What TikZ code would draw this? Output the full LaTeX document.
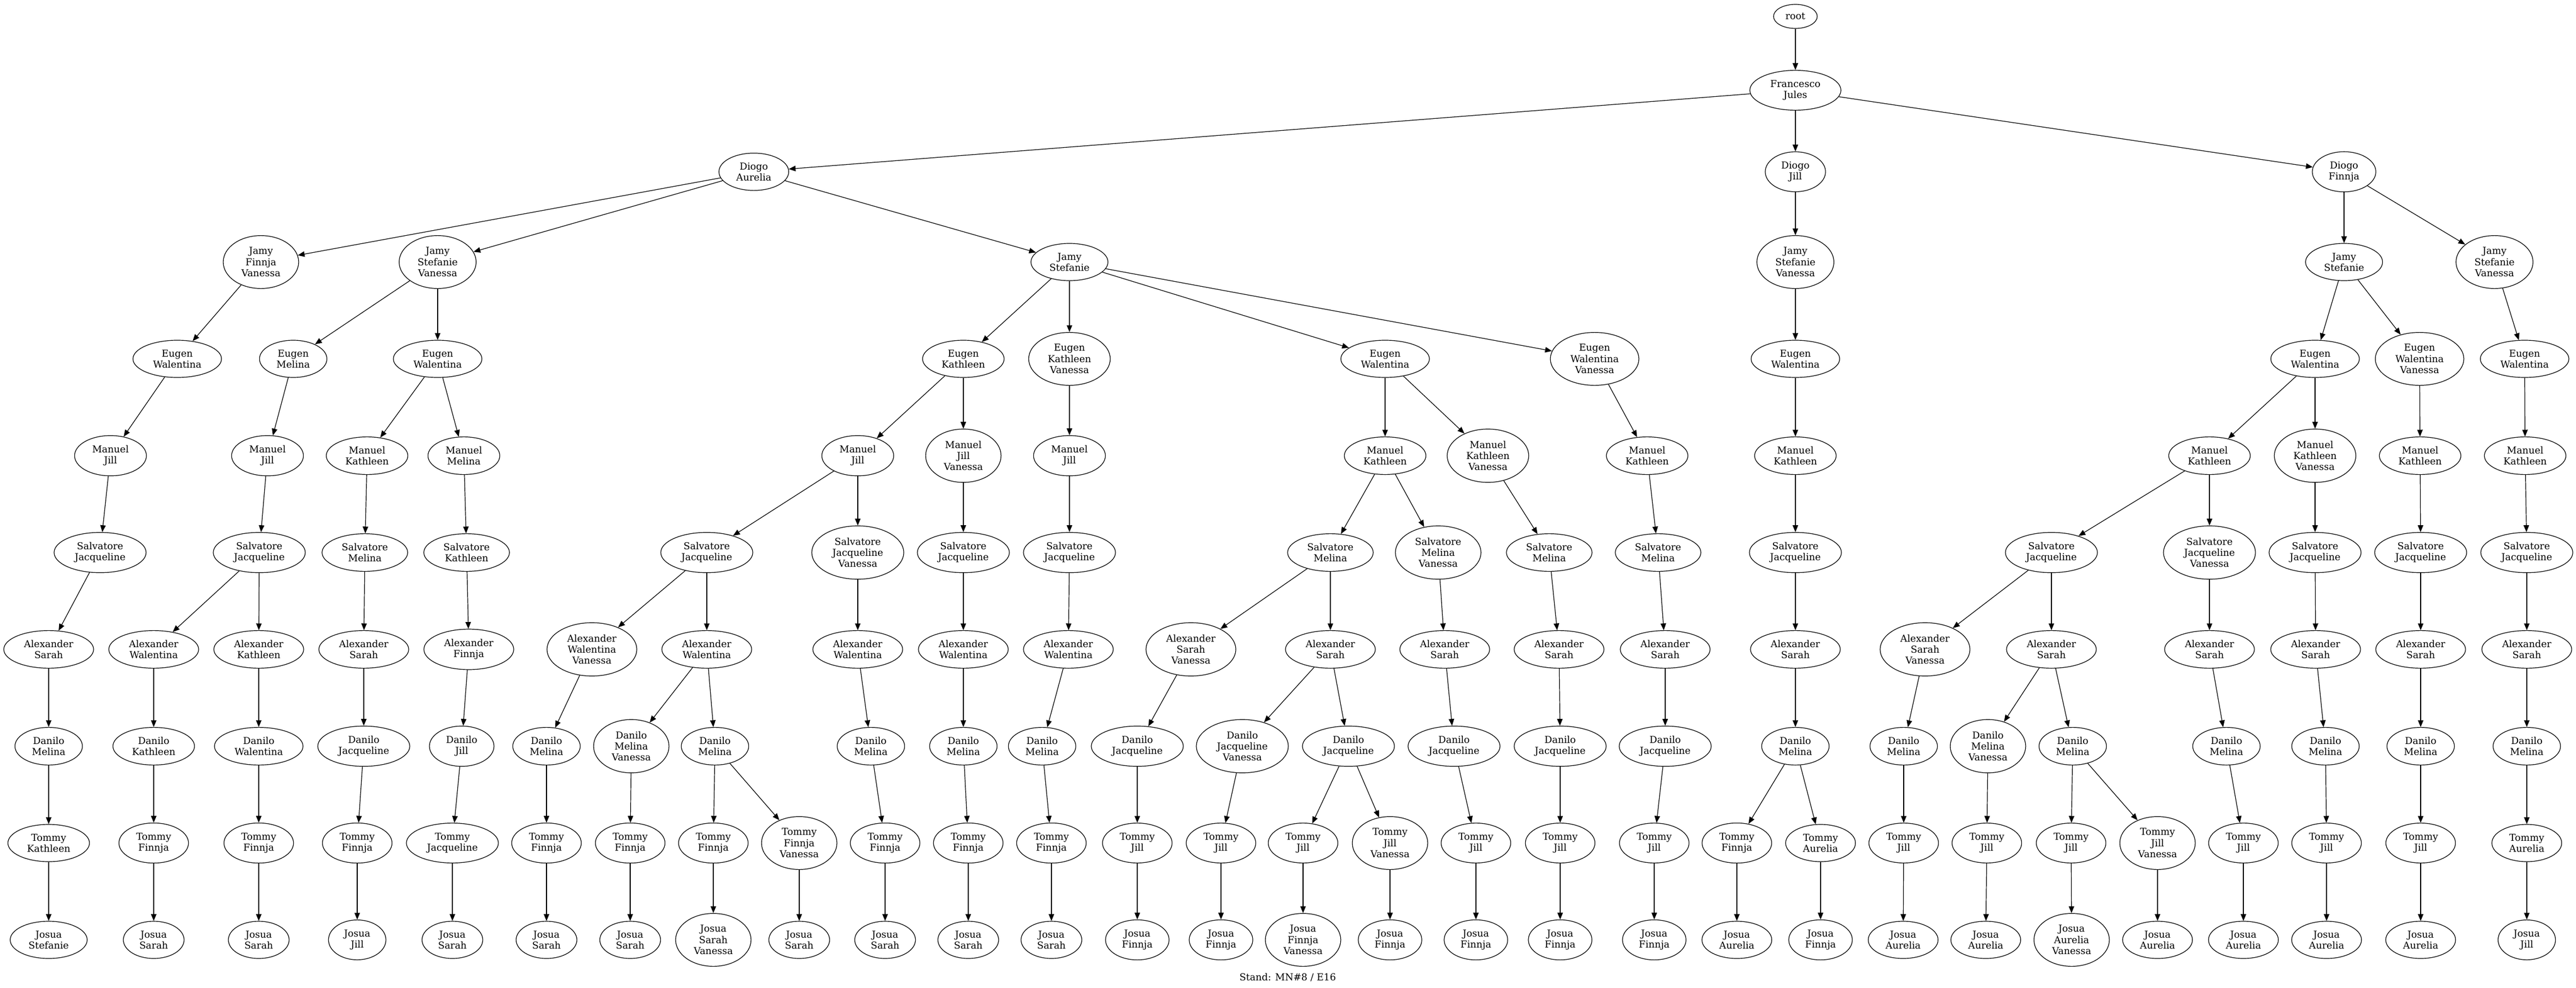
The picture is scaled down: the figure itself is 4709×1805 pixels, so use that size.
\documentclass[tikz,border=0pt]{standalone}
\usepackage{fontspec}
\setmainfont{DejaVu Serif}
\usetikzlibrary{arrows.meta,shapes.geometric}
\newcommand\gvfont{\fontsize{17.5}{20.3}\selectfont}

\begin{document}
\begin{tikzpicture}[x=1pt,y=-1pt,line width=1.2pt,>={Triangle[length=12.5pt,width=10pt]}]
        \tikzstyle{every node}=[draw,ellipse,align=center,font=\gvfont,inner xsep=13pt,inner ysep=7.4pt,minimum width=66pt,minimum height=44pt]
        \useasboundingbox (0,0) rectangle (4709,1805);
        \node (root) at (3282,30) [inner xsep=10pt] {root};
        \node (fj) at (3282,165) {Francesco\\Jules};
        \node (da) at (1378,314) {Diogo\\Aurelia};
        \node (dj) at (3282,314) {Diogo\\Jill};
        \node (df) at (4285,314) {Diogo\\Finnja};

        \node (da1) at (477,479) {Jamy\\Finnja\\Vanessa};
        \node (da2) at (800,479) {Jamy\\Stefanie\\Vanessa};
        \node (da3) at (1955,479) {Jamy\\Stefanie};
        \node (jj) at (3282,479) {Jamy\\Stefanie\\Vanessa};
        \node (jf1) at (4285,479) {Jamy\\Stefanie};
        \node (jf2) at (4560,479) {Jamy\\Stefanie\\Vanessa};

        \node (e1) at (324,656) {Eugen\\Walentina};
        \node (e2) at (536,656) {Eugen\\Melina};
        \node (e3) at (800,656) {Eugen\\Walentina};
        \node (e4) at (1761,656) {Eugen\\Kathleen};
        \node (e5) at (1955,656) {Eugen\\Kathleen\\Vanessa};
        \node (e6) at (2532,656) {Eugen\\Walentina};
        \node (e7) at (2915,656) {Eugen\\Walentina\\Vanessa};
        \node (e8) at (3282,656) {Eugen\\Walentina};
        \node (e9) at (4232,656) {Eugen\\Walentina};
        \node (e10) at (4423,656) {Eugen\\Walentina\\Vanessa};
        \node (e11) at (4615,656) {Eugen\\Walentina};

        \node (m1) at (202,833) {Manuel\\Jill};
        \node (m2) at (489,833) {Manuel\\Jill};
        \node (m3) at (671,833) {Manuel\\Kathleen};
        \node (m4) at (848,833) {Manuel\\Melina};
        \node (m5) at (1568,833) {Manuel\\Jill};
        \node (m6) at (1761,833) {Manuel\\Jill\\Vanessa};
        \node (m7) at (1955,833) {Manuel\\Jill};
        \node (m8) at (2532,833) {Manuel\\Kathleen};
        \node (m9) at (2720,833) {Manuel\\Kathleen\\Vanessa};
        \node (m10) at (3011,833) {Manuel\\Kathleen};
        \node (m11) at (3282,833) {Manuel\\Kathleen};
        \node (m12) at (4039,833) {Manuel\\Kathleen};
        \node (m13) at (4232,833) {Manuel\\Kathleen\\Vanessa};
        \node (m14) at (4424,833) {Manuel\\Kathleen};
        \node (m15) at (4616,833) {Manuel\\Kathleen};

        \node (s1) at (183,1010) {Salvatore\\Jacqueline};
        \node (s2) at (474,1010) {Salvatore\\Jacqueline};
        \node (s3) at (667,1010) {Salvatore\\Melina};
        \node (s4) at (853,1010) {Salvatore\\Kathleen};
        \node (s5) at (1292,1010) {Salvatore\\Jacqueline};
        \node (s6) at (1568,1010) {Salvatore\\Jacqueline\\Vanessa};
        \node (s7) at (1761,1010) {Salvatore\\Jacqueline};
        \node (s8) at (1955,1010) {Salvatore\\Jacqueline};
        \node (s9) at (2432,1010) {Salvatore\\Melina};
        \node (s10) at (2629,1010) {Salvatore\\Melina\\Vanessa};
        \node (s11) at (2832,1010) {Salvatore\\Melina};
        \node (s12) at (3031,1010) {Salvatore\\Melina};
        \node (s13) at (3282,1010) {Salvatore\\Jacqueline};
        \node (s14) at (3750,1010) {Salvatore\\Jacqueline};
        \node (s15) at (4039,1010) {Salvatore\\Jacqueline\\Vanessa};
        \node (s16) at (4232,1010) {Salvatore\\Jacqueline};
        \node (s17) at (4425,1010) {Salvatore\\Jacqueline};
        \node (s18) at (4619,1010) {Salvatore\\Jacqueline};

        \node (a1) at (89,1187) {Alexander\\Sarah};
        \node (a2) at (281,1187) {Alexander\\Walentina};
        \node (a3) at (473,1187) {Alexander\\Kathleen};
        \node (a4) at (665,1187) {Alexander\\Sarah};
        \node (a5) at (857,1187) {Alexander\\Finnja};
        \node (a6) at (1082,1187) {Alexander\\Walentina\\Vanessa};
        \node (a7) at (1292,1187) {Alexander\\Walentina};
        \node (a8) at (1568,1187) {Alexander\\Walentina};
        \node (a9) at (1761,1187) {Alexander\\Walentina};
        \node (a10) at (1953,1187) {Alexander\\Walentina};
        \node (a11) at (2177,1187) {Alexander\\Sarah\\Vanessa};
        \node (a12) at (2432,1187) {Alexander\\Sarah};
        \node (a13) at (2641,1187) {Alexander\\Sarah};
        \node (a14) at (2850,1187) {Alexander\\Sarah};
        \node (a15) at (3044,1187) {Alexander\\Sarah};
        \node (a16) at (3282,1187) {Alexander\\Sarah};
        \node (a17) at (3519,1187) {Alexander\\Sarah\\Vanessa};
        \node (a18) at (3750,1187) {Alexander\\Sarah};
        \node (a19) at (4039,1187) {Alexander\\Sarah};
        \node (a20) at (4233,1187) {Alexander\\Sarah};
        \node (a21) at (4425,1187) {Alexander\\Sarah};
        \node (a22) at (4619,1187) {Alexander\\Sarah};

        \node (d1) at (89,1364) {Danilo\\Melina};
        \node (d2) at (281,1364) {Danilo\\Kathleen};
        \node (d3) at (473,1364) {Danilo\\Walentina};
        \node (d4) at (665,1364) {Danilo\\Jacqueline};
        \node (d5) at (844,1364) {Danilo\\Jill};
        \node (d6) at (999,1364) {Danilo\\Melina};
        \node (d7) at (1154,1364) {Danilo\\Melina\\Vanessa};
        \node (d8) at (1307,1364) {Danilo\\Melina};
        \node (d9) at (1592,1364) {Danilo\\Melina};
        \node (d10) at (1761,1364) {Danilo\\Melina};
        \node (d11) at (1905,1364) {Danilo\\Melina};
        \node (d12) at (2079,1364) {Danilo\\Jacqueline};
        \node (d13) at (2271,1364) {Danilo\\Jacqueline\\Vanessa};
        \node (d14) at (2465,1364) {Danilo\\Jacqueline};
        \node (d15) at (2658,1364) {Danilo\\Jacqueline};
        \node (d16) at (2852,1364) {Danilo\\Jacqueline};
        \node (d17) at (3044,1364) {Danilo\\Jacqueline};
        \node (d18) at (3282,1364) {Danilo\\Melina};
        \node (d19) at (3480,1364) {Danilo\\Melina};
        \node (d20) at (3634,1364) {Danilo\\Melina\\Vanessa};
        \node (d21) at (3789,1364) {Danilo\\Melina};
        \node (d22) at (4070,1364) {Danilo\\Melina};
        \node (d23) at (4251,1364) {Danilo\\Melina};
        \node (d24) at (4425,1364) {Danilo\\Melina};
        \node (d25) at (4619,1364) {Danilo\\Melina};

        \node (t1) at (89,1541) {Tommy\\Kathleen};
        \node (t2) at (281,1541) {Tommy\\Finnja};
        \node (t3) at (473,1541) {Tommy\\Finnja};
        \node (t4) at (653,1541) {Tommy\\Finnja};
        \node (t5) at (827,1541) {Tommy\\Jacqueline};
        \node (t6) at (999,1541) {Tommy\\Finnja};
        \node (t7) at (1152,1541) {Tommy\\Finnja};
        \node (t8) at (1304,1541) {Tommy\\Finnja};
        \node (t9) at (1461,1541) {Tommy\\Finnja\\Vanessa};
        \node (t10) at (1618,1541) {Tommy\\Finnja};
        \node (t11) at (1770,1541) {Tommy\\Finnja};
        \node (t12) at (1922,1541) {Tommy\\Finnja};
        \node (t13) at (2079,1541) {Tommy\\Jill};
        \node (t14) at (2232,1541) {Tommy\\Jill};
        \node (t15) at (2382,1541) {Tommy\\Jill};
        \node (t16) at (2541,1541) {Tommy\\Jill\\Vanessa};
        \node (t17) at (2698,1541) {Tommy\\Jill};
        \node (t18) at (2852,1541) {Tommy\\Jill};
        \node (t19) at (3024,1541) {Tommy\\Jill};
        \node (t20) at (3175,1541) {Tommy\\Finnja};
        \node (t21) at (3328,1541) {Tommy\\Aurelia};
        \node (t22) at (3480,1541) {Tommy\\Jill};
        \node (t23) at (3632,1541) {Tommy\\Jill};
        \node (t24) at (3786,1541) {Tommy\\Jill};
        \node (t25) at (3944,1541) {Tommy\\Jill\\Vanessa};
        \node (t26) at (4101,1541) {Tommy\\Jill};
        \node (t27) at (4253,1541) {Tommy\\Jill};
        \node (t28) at (4425,1541) {Tommy\\Jill};
        \node (t29) at (4619,1541) {Tommy\\Aurelia};

        \node (j1) at (89,1718) {Josua\\Stefanie};
        \node (j2) at (281,1718) {Josua\\Sarah};
        \node (j3) at (473,1718) {Josua\\Sarah};
        \node (j4) at (653,1718) {Josua\\Jill};
        \node (j5) at (827,1718) {Josua\\Sarah};
        \node (j6) at (999,1718) {Josua\\Sarah};
        \node (j7) at (1152,1718) {Josua\\Sarah};
        \node (j8) at (1304,1718) {Josua\\Sarah\\Vanessa};
        \node (j9) at (1461,1718) {Josua\\Sarah};
        \node (j10) at (1618,1718) {Josua\\Sarah};
        \node (j11) at (1770,1718) {Josua\\Sarah};
        \node (j12) at (1922,1718) {Josua\\Sarah};
        \node (j13) at (2079,1718) {Josua\\Finnja};
        \node (j14) at (2232,1718) {Josua\\Finnja};
        \node (j15) at (2382,1718) {Josua\\Finnja\\Vanessa};
        \node (j16) at (2541,1718) {Josua\\Finnja};
        \node (j17) at (2698,1718) {Josua\\Finnja};
        \node (j18) at (2852,1718) {Josua\\Finnja};
        \node (j19) at (3024,1718) {Josua\\Finnja};
        \node (j20) at (3175,1718) {Josua\\Aurelia};
        \node (j21) at (3328,1718) {Josua\\Finnja};
        \node (j22) at (3479,1718) {Josua\\Aurelia};
        \node (j23) at (3630,1718) {Josua\\Aurelia};
        \node (j24) at (3787,1718) {Josua\\Aurelia\\Vanessa};
        \node (j25) at (3944,1718) {Josua\\Aurelia};
        \node (j26) at (4101,1718) {Josua\\Aurelia};
        \node (j27) at (4253,1718) {Josua\\Aurelia};
        \node (j28) at (4425,1718) {Josua\\Aurelia};
        \node (j29) at (4619,1718) {Josua\\Jill};

        \node (stand) at (2354,1787) [draw=none] {Stand: MN\#8 / E16};

        \draw[->] (root) edge (fj);
        \draw[->] (fj) edge (da) edge (dj) edge (df);
        \draw[->] (da) edge (da1) edge (da2) edge (da3);
        \draw[->] (dj) edge (jj);
        \draw[->] (df) edge (jf1) edge (jf2);
        \draw[->] (da1) edge (e1);
        \draw[->] (da2) edge (e2) edge (e3);
        \draw[->] (da3) edge (e4) edge (e5) edge (e6) edge (e7);
        \draw[->] (jj) edge (e8);
        \draw[->] (jf1) edge (e9) edge (e10);
        \draw[->] (jf2) edge (e11);
        \draw[->] (e1) edge (m1);
        \draw[->] (e2) edge (m2);
        \draw[->] (e3) edge (m3) edge (m4);
        \draw[->] (e4) edge (m5) edge (m6);
        \draw[->] (e5) edge (m7);
        \draw[->] (e6) edge (m8) edge (m9);
        \draw[->] (e7) edge (m10);
        \draw[->] (e8) edge (m11);
        \draw[->] (e9) edge (m12) edge (m13);
        \draw[->] (e10) edge (m14);
        \draw[->] (e11) edge (m15);
        \draw[->] (m1) edge (s1);
        \draw[->] (m2) edge (s2);
        \draw[->] (m3) edge (s3);
        \draw[->] (m4) edge (s4);
        \draw[->] (m5) edge (s5) edge (s6);
        \draw[->] (m6) edge (s7);
        \draw[->] (m7) edge (s8);
        \draw[->] (m8) edge (s9) edge (s10);
        \draw[->] (m9) edge (s11);
        \draw[->] (m10) edge (s12);
        \draw[->] (m11) edge (s13);
        \draw[->] (m12) edge (s14) edge (s15);
        \draw[->] (m13) edge (s16);
        \draw[->] (m14) edge (s17);
        \draw[->] (m15) edge (s18);
        \draw[->] (s1) edge (a1);
        \draw[->] (s2) edge (a2) edge (a3);
        \draw[->] (s3) edge (a4);
        \draw[->] (s4) edge (a5);
        \draw[->] (s5) edge (a6) edge (a7);
        \draw[->] (s6) edge (a8);
        \draw[->] (s7) edge (a9);
        \draw[->] (s8) edge (a10);
        \draw[->] (s9) edge (a11) edge (a12);
        \draw[->] (s10) edge (a13);
        \draw[->] (s11) edge (a14);
        \draw[->] (s12) edge (a15);
        \draw[->] (s13) edge (a16);
        \draw[->] (s14) edge (a17) edge (a18);
        \draw[->] (s15) edge (a19);
        \draw[->] (s16) edge (a20);
        \draw[->] (s17) edge (a21);
        \draw[->] (s18) edge (a22);
        \draw[->] (a1) edge (d1);
        \draw[->] (a2) edge (d2);
        \draw[->] (a3) edge (d3);
        \draw[->] (a4) edge (d4);
        \draw[->] (a5) edge (d5);
        \draw[->] (a6) edge (d6);
        \draw[->] (a7) edge (d7) edge (d8);
        \draw[->] (a8) edge (d9);
        \draw[->] (a9) edge (d10);
        \draw[->] (a10) edge (d11);
        \draw[->] (a11) edge (d12);
        \draw[->] (a12) edge (d13) edge (d14);
        \draw[->] (a13) edge (d15);
        \draw[->] (a14) edge (d16);
        \draw[->] (a15) edge (d17);
        \draw[->] (a16) edge (d18);
        \draw[->] (a17) edge (d19);
        \draw[->] (a18) edge (d20) edge (d21);
        \draw[->] (a19) edge (d22);
        \draw[->] (a20) edge (d23);
        \draw[->] (a21) edge (d24);
        \draw[->] (a22) edge (d25);
        \draw[->] (d1) edge (t1);
        \draw[->] (d2) edge (t2);
        \draw[->] (d3) edge (t3);
        \draw[->] (d4) edge (t4);
        \draw[->] (d5) edge (t5);
        \draw[->] (d6) edge (t6);
        \draw[->] (d7) edge (t7);
        \draw[->] (d8) edge (t8) edge (t9);
        \draw[->] (d9) edge (t10);
        \draw[->] (d10) edge (t11);
        \draw[->] (d11) edge (t12);
        \draw[->] (d12) edge (t13);
        \draw[->] (d13) edge (t14);
        \draw[->] (d14) edge (t15) edge (t16);
        \draw[->] (d15) edge (t17);
        \draw[->] (d16) edge (t18);
        \draw[->] (d17) edge (t19);
        \draw[->] (d18) edge (t20) edge (t21);
        \draw[->] (d19) edge (t22);
        \draw[->] (d20) edge (t23);
        \draw[->] (d21) edge (t24) edge (t25);
        \draw[->] (d22) edge (t26);
        \draw[->] (d23) edge (t27);
        \draw[->] (d24) edge (t28);
        \draw[->] (d25) edge (t29);
        \draw[->] (t1) edge (j1);
        \draw[->] (t2) edge (j2);
        \draw[->] (t3) edge (j3);
        \draw[->] (t4) edge (j4);
        \draw[->] (t5) edge (j5);
        \draw[->] (t6) edge (j6);
        \draw[->] (t7) edge (j7);
        \draw[->] (t8) edge (j8);
        \draw[->] (t9) edge (j9);
        \draw[->] (t10) edge (j10);
        \draw[->] (t11) edge (j11);
        \draw[->] (t12) edge (j12);
        \draw[->] (t13) edge (j13);
        \draw[->] (t14) edge (j14);
        \draw[->] (t15) edge (j15);
        \draw[->] (t16) edge (j16);
        \draw[->] (t17) edge (j17);
        \draw[->] (t18) edge (j18);
        \draw[->] (t19) edge (j19);
        \draw[->] (t20) edge (j20);
        \draw[->] (t21) edge (j21);
        \draw[->] (t22) edge (j22);
        \draw[->] (t23) edge (j23);
        \draw[->] (t24) edge (j24);
        \draw[->] (t25) edge (j25);
        \draw[->] (t26) edge (j26);
        \draw[->] (t27) edge (j27);
        \draw[->] (t28) edge (j28);
        \draw[->] (t29) edge (j29);
    \end{tikzpicture}
\end{document}
